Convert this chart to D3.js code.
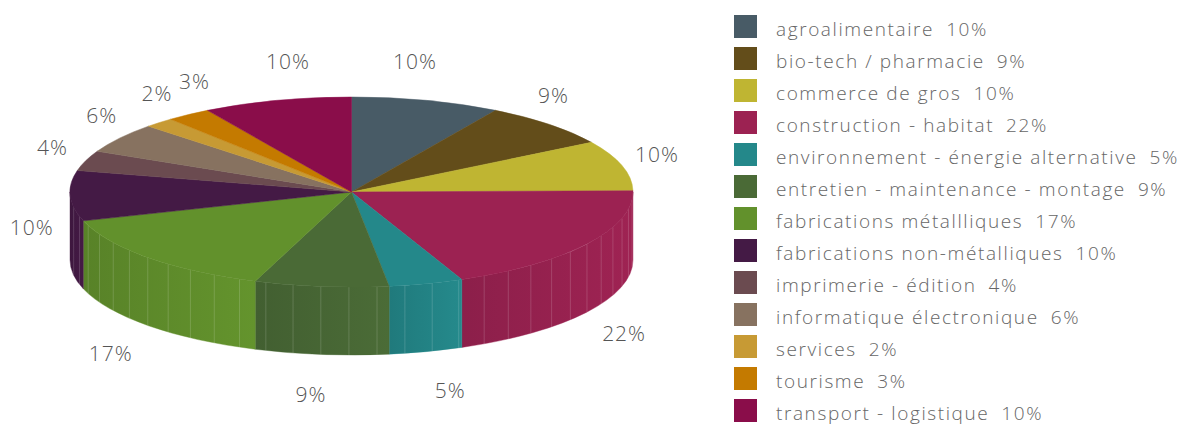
<!DOCTYPE html>
<html>
<head>
<meta charset="utf-8">
<script src="https://cdn.jsdelivr.net/npm/d3@7"></script>
<style>
  body { margin: 0; background: #fff; }
  svg text { font-family: "Open Sans", "Lato", sans-serif; font-weight: 300; }
</style>
</head>
<body>
<div class="chart"></div>
<script>
// secteurs d'activite
var categories = ["agroalimentaire", "bio-tech / pharmacie", "commerce de gros", "construction - habitat",
  "environnement - énergie alternative", "entretien - maintenance - montage", "fabrications métallliques",
  "fabrications non-métalliques", "imprimerie - édition", "informatique électronique", "services",
  "tourisme", "transport - logistique"];
var values = [10, 9, 10, 22, 5, 9, 17, 10, 4, 6, 2, 3, 10];
var colors = ["#485b66", "#634d1a", "#bfb532", "#9c2252", "#24888a", "#4a6a36", "#62912c",
  "#441a45", "#6b4b50", "#877260", "#c79a34", "#c47a00", "#8a0d4a"];

var W = 1194, H = 425;
var cx = 351.5, cy = 192, rx = 281.5, ry = 95, depth = 68;

var svg = d3.select('.chart').append('svg')
  .attr('width', W)
  .attr('height', H);

var data = categories.map(function(c, i){ return {name: c, value: values[i], color: colors[i]}; });
var arcs = d3.pie().sort(null).value(function(d){ return d.value; })(data);

// point on the ellipse, angle 0 = top, clockwise
var px = function(a){ return cx + rx * Math.sin(a); };
var py = function(a, dz){ return cy - ry * Math.cos(a) + (dz || 0); };

/*---------------------------GRADIENTS--------------------------*/

var defs = svg.append('defs');
var grads = defs.selectAll('linearGradient')
  .data(data)
  .enter().append('linearGradient')
  .attr('id', function(d, i){ return 'side' + i; })
  .attr('x1', 0).attr('x2', 1).attr('y1', 0).attr('y2', 0);
grads.append('stop').attr('offset', 0)
  .attr('stop-color', function(d){ return d3.color(d.color).darker(0.3); });
grads.append('stop').attr('offset', 1)
  .attr('stop-color', function(d){ return d3.color(d.color).brighter(0.05); });

/*---------------------------SIDE WALLS--------------------------*/

var frontRange = function(a0, a1){
  var s = Math.max(a0, Math.PI / 2), e = Math.min(a1, Math.PI * 1.5);
  return e > s ? [s, e] : null;
};

var sidePath = function(r){
  var s = r[0], e = r[1];
  return 'M' + px(s) + ',' + py(s) +
    'A' + rx + ',' + ry + ' 0 0 1 ' + px(e) + ',' + py(e) +
    'L' + px(e) + ',' + py(e, depth) +
    'A' + rx + ',' + ry + ' 0 0 0 ' + px(s) + ',' + py(s, depth) + 'Z';
};

var fronts = arcs.filter(function(d){ return frontRange(d.startAngle, d.endAngle); });

svg.append('g').selectAll('path')
  .data(fronts)
  .enter().append('path')
  .attr('d', function(d){ return sidePath(frontRange(d.startAngle, d.endAngle)); })
  .attr('fill', function(d){ return 'url(#side' + d.index + ')'; })
  .attr('stroke', function(d){ return d.data.color; })
  .attr('stroke-width', 0.4);

// faint seams on the wall
var seams = d3.range(Math.PI / 2 + 0.08, Math.PI * 1.45, 0.1);
svg.append('g').selectAll('line')
  .data(seams)
  .enter().append('line')
  .attr('x1', function(a){ return px(a); })
  .attr('x2', function(a){ return px(a); })
  .attr('y1', function(a){ return py(a); })
  .attr('y2', function(a){ return py(a, depth); })
  .attr('stroke', '#fff')
  .attr('stroke-opacity', 0.2)
  .attr('stroke-width', 0.8);

/*---------------------------TOP FACE--------------------------*/

var topPath = function(a0, a1){
  var large = (a1 - a0) > Math.PI ? 1 : 0;
  return 'M' + cx + ',' + cy +
    'L' + px(a0) + ',' + py(a0) +
    'A' + rx + ',' + ry + ' 0 ' + large + ' 1 ' + px(a1) + ',' + py(a1) + 'Z';
};

svg.append('g').selectAll('path')
  .data(arcs)
  .enter().append('path')
  .attr('d', function(d){ return topPath(d.startAngle, d.endAngle); })
  .attr('fill', function(d){ return d.data.color; })
  .attr('stroke', function(d){ return d.data.color; })
  .attr('stroke-width', 0.5);

/*---------------------------LABELS--------------------------*/

svg.append('g').selectAll('text')
  .data(arcs)
  .enter().append('text')
  .attr('x', function(d){
    var a = (d.startAngle + d.endAngle) / 2;
    var c = Math.cos(a);
    var k = c > 0 ? 320 - 90 * Math.pow(c, 3) : 320 + 60 * Math.pow(c, 4);
    return cx + k * Math.sin(a);
  })
  .attr('y', function(d){
    var a = (d.startAngle + d.endAngle) / 2;
    var c = Math.cos(a);
    var f = Math.max(0, Math.min(1, 0.35 - 2.5 * c));
    return cy - (ry + 40) * c + depth * f;
  })
  .attr('text-anchor', 'middle')
  .attr('dy', '0.35em')
  .attr('font-size', 21)
  .attr('letter-spacing', 1)
  .attr('fill', '#555')
  .text(function(d){ return d.data.value + '%'; });

/*---------------------------LEGEND--------------------------*/

var legend = svg.append('g').attr('transform', 'translate(734, 15)');

var rows = legend.selectAll('g')
  .data(data)
  .enter().append('g')
  .attr('transform', function(d, i){ return 'translate(0,' + (i * 32) + ')'; });

rows.append('rect')
  .attr('width', 23)
  .attr('height', 23)
  .attr('fill', function(d){ return d.color; });

var lt = rows.append('text')
  .attr('x', 42)
  .attr('y', 14)
  .attr('dy', '0.35em')
  .attr('font-size', 19)
  .attr('letter-spacing', 1.6)
  .attr('fill', '#666');

lt.append('tspan').text(function(d){ return d.name; });
lt.append('tspan').attr('dx', 12).text(function(d){ return d.value + '%'; });
</script>
</body>
</html>
